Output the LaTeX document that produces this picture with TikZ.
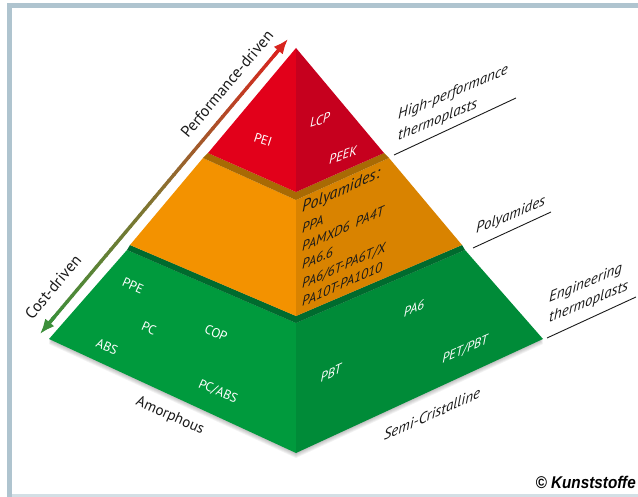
\documentclass[tikz,border=0pt]{standalone}
\usepackage{fontspec}
\setmainfont{PT Sans}
\newfontfamily\credfont[FakeStretch=0.9]{Liberation Sans}
\usetikzlibrary{calc,arrows.meta}

\definecolor{framec}{HTML}{AFC4CF}
\definecolor{framelight}{HTML}{D3DFE5}
\definecolor{redL}{HTML}{E2001A}
\definecolor{redR}{HTML}{C6001E}
\definecolor{bandBrown}{HTML}{A86A04}
\definecolor{orL}{HTML}{F39200}
\definecolor{orR}{HTML}{D98300}
\definecolor{bandGreen}{HTML}{006B2E}
\definecolor{grL}{HTML}{009A3D}
\definecolor{grR}{HTML}{008B38}
\definecolor{arGreen}{HTML}{3C8F3A}
\definecolor{arBrown}{HTML}{8C7030}
\definecolor{arRed}{HTML}{D8241E}
\definecolor{inkc}{HTML}{1A1A1A}

\begin{document}
\begin{tikzpicture}[x=1pt,y=-1pt,
  facetxt/.style={text=white,inner sep=0pt,font=\fontsize{13}{13}\selectfont},
  facetxtit/.style={facetxt,font=\itshape\fontsize{13}{13}\selectfont},
  listtxt/.style={text=inkc,inner sep=0pt,anchor=base west,yslant=0.45,font=\itshape\fontsize{13.5}{13.5}\selectfont},
  sidelbl/.style={text=inkc,inner sep=0pt,anchor=base west,yslant=0.42,font=\itshape\fontsize{15}{15}\selectfont},
  baselbl/.style={text=inkc,inner sep=0pt,font=\fontsize{15}{15}\selectfont},
  arrowtxt/.style={text=inkc,inner sep=0pt,rotate=50,font=\fontsize{16}{16}\selectfont},
  underln/.style={draw=inkc,line width=0.9pt},
  shaft/.style={line width=3.4pt,line cap=butt},
  headtip/.style={line width=3.4pt,-{Latex[length=15pt,width=12pt]}}
]
\useasboundingbox (0,0) rectangle (638,497);

% page frame
\fill[framec] (7,3) rectangle (638,8);
\fill[framec] (7,3) rectangle (12,497);
\fill[framelight] (12,494) rectangle (638,497);

% pyramid corner points
\coordinate (apex) at (296,48);
\coordinate (rL) at (208,153);  \coordinate (rF) at (296,192);  \coordinate (rR) at (384,153);
\coordinate (oL) at (203,158);  \coordinate (oF) at (296,200);  \coordinate (oR) at (389,158);
\coordinate (obL) at (130,245); \coordinate (obF) at (296,316); \coordinate (obR) at (462,245);
\coordinate (gL) at (127,250);  \coordinate (gF) at (296,323);  \coordinate (gR) at (465,250);
\coordinate (gbL) at (49,339);  \coordinate (gbF) at (296,453); \coordinate (gbR) at (543,339);

% soft shadow under the base
\foreach \k in {1,...,5}{
  \fill[black,opacity=0.05]
    ([shift={(0,\k)}]gL) -- ([shift={(0,\k)}]gbL) -- ([shift={(0,\k)}]gbF)
    -- ([shift={(0,\k)}]gbR) -- ([shift={(0,\k)}]gR) -- cycle;
}

% green layer
\fill[grL] (gL) -- (gF) -- (gbF) -- (gbL) -- cycle;
\fill[grR] (gF) -- (gR) -- (gbR) -- (gbF) -- cycle;
\fill[bandGreen] (obL) -- (obF) -- (obR) -- (gR) -- (gF) -- (gL) -- cycle;
% orange layer
\fill[orL] (oL) -- (oF) -- (obF) -- (obL) -- cycle;
\fill[orR] (oF) -- (oR) -- (obR) -- (obF) -- cycle;
\fill[bandBrown] (rL) -- (rF) -- (rR) -- (oR) -- (oF) -- (oL) -- cycle;
% red top
\fill[redL] (apex) -- (rF) -- (rL) -- cycle;
\fill[redR] (apex) -- (rR) -- (rF) -- cycle;

% double arrow with colour gradient
\coordinate (costTip) at (40,334);
\coordinate (perfTip) at (288,39);
\foreach \i in {0,...,47}{
  \pgfmathsetmacro{\ta}{0.03+0.94*\i/48}
  \pgfmathsetmacro{\tb}{0.03+0.94*(\i+1)/48+0.003}
  \pgfmathtruncatemacro{\pa}{min(100,200*\i/47)}
  \pgfmathtruncatemacro{\pb}{max(0,200*\i/47-100)}
  \colorlet{segc}{arBrown!\pa!arGreen}
  \colorlet{segc}{arRed!\pb!segc}
  \draw[shaft,draw=segc] ($(costTip)!\ta!(perfTip)$) -- ($(costTip)!\tb!(perfTip)$);
}
\draw[headtip,draw=arGreen,fill=arGreen] ($(costTip)!0.06!(perfTip)$) -- (costTip);
\draw[headtip,draw=arRed,fill=arRed] ($(costTip)!0.94!(perfTip)$) -- (perfTip);

\node[arrowtxt] (perfLbl) at (227,84) {Performance-driven};
\node[arrowtxt] (costLbl) at (53,287) {Cost-driven};

% red layer labels
\node[facetxt,rotate=-18] (pei) at (263,140) {PEI};
\node[facetxtit,yslant=0.35] (lcp) at (320,120) {LCP};
\node[facetxtit,yslant=0.35] (peek) at (343,155) {PEEK};

% polyamide list
\node[listtxt,font=\itshape\fontsize{16}{16}\selectfont] (paHead) at (302,213) {Polyamides:};
\node[listtxt] (ppa) at (302,234) {PPA};
\node[listtxt] (pamxd) at (302,252) {PAMXD6\hspace{6pt}PA4T};
\node[listtxt] (pa66) at (302,270) {PA6.6};
\node[listtxt] (pa6t) at (302,289) {PA6/6T-PA6T/X};
\node[listtxt] (pa10) at (302,307) {PA10T-PA1010};

% green layer labels
\node[facetxt,rotate=-24] (ppe) at (133,286) {PPE};
\node[facetxt,rotate=-24] (pc) at (149,328) {PC};
\node[facetxt,rotate=-24] (abs) at (107,347) {ABS};
\node[facetxt,rotate=-24] (cop) at (216,333) {COP};
\node[facetxt,rotate=-24] (pcabs) at (218,392) {PC/ABS};
\node[facetxtit,yslant=0.45] (pbt) at (331,373) {PBT};
\node[facetxtit,yslant=0.45] (pa6) at (414,308) {PA6};
\node[facetxtit,yslant=0.45] (petpbt) at (465,350) {PET/PBT};

% base labels
\node[baselbl,rotate=-24] (amorph) at (170,416) {Amorphous};
\node[baselbl,yslant=0.45,font=\itshape\fontsize{15}{15}\selectfont] (semi) at (432,414) {Semi-Cristalline};

% class labels on the right
\node[sidelbl] (hp1) at (398,120) {High-performance};
\node[sidelbl] (hp2) at (398,141) {thermoplasts};
\coordinate (hpA) at (394,155); \coordinate (hpB) at (516,98);
\draw[underln] (hpA) -- (hpB);

\node[sidelbl] (paLbl) at (476,234) {Polyamides};
\coordinate (paA) at (473,248); \coordinate (paB) at (551,212);
\draw[underln] (paA) -- (paB);

\node[sidelbl] (eng1) at (549,303) {Engineering};
\node[sidelbl] (eng2) at (549,323) {thermoplasts};
\coordinate (engA) at (547,338); \coordinate (engB) at (636,297);
\draw[underln] (engA) -- (engB);

% credit
\node[anchor=base east,inner sep=0pt,text=black,font=\credfont\bfseries\itshape\fontsize{17}{17}\selectfont] (credit) at (636,488) {© Kunststoffe};
\end{tikzpicture}
\end{document}
